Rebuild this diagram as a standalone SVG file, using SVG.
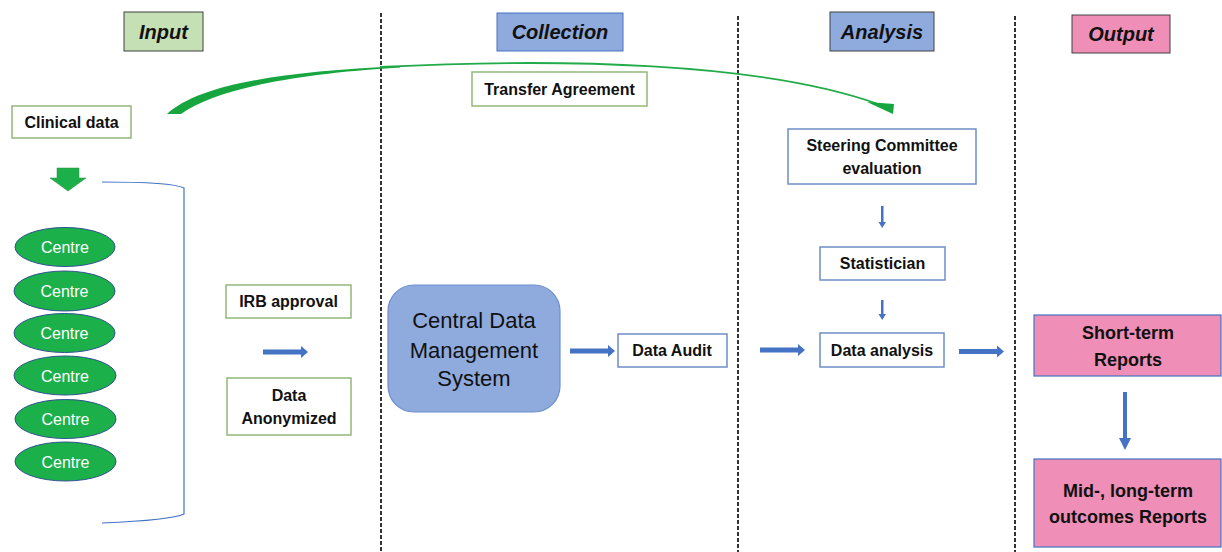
<svg xmlns="http://www.w3.org/2000/svg" width="1222" height="552" viewBox="0 0 1222 552">
<style>
.hdr{font-family:"Liberation Sans",Arial,sans-serif;font-size:20px;font-weight:bold;font-style:italic;fill:#111;text-anchor:middle}
.lbl{font-family:"Liberation Sans",Arial,sans-serif;font-size:16px;font-weight:bold;fill:#111;text-anchor:middle}
.big{font-family:"Liberation Sans",Arial,sans-serif;font-size:18px;font-weight:bold;fill:#111;text-anchor:middle}
.cdm{font-family:"Liberation Sans",Arial,sans-serif;font-size:22px;fill:#111;text-anchor:middle}
.ctr{font-family:"Liberation Sans",Arial,sans-serif;font-size:16px;fill:#fff;text-anchor:middle}
.gbox{fill:#fff;stroke:#93b678;stroke-width:1.5}
.bbox{fill:#fff;stroke:#6f8dc8;stroke-width:1.5}
.ell{fill:#1cb04a;stroke:#2f528f;stroke-width:1}
.dash{stroke:#333;stroke-width:2;stroke-dasharray:4 2}
.blue{fill:#4472c4}
</style>
<defs>
<path id="harr" d="M0,-2.5 L38,-2.5 L38,-6 L45,0 L38,6 L38,2.5 L0,2.5 Z"/>
</defs>
<rect width="1222" height="552" fill="#fff"/>
<g id="lanes">
<line class="dash" x1="381" y1="13" x2="381" y2="552"/>
<line class="dash" x1="738" y1="16" x2="738" y2="552"/>
<line class="dash" x1="1015" y1="16" x2="1015" y2="552"/>
</g>
<g id="hdr-input"><rect x="124" y="12" width="79" height="39" fill="#c5e0b4" stroke="#404040" stroke-width="1"/><text class="hdr" x="163.5" y="39">Input</text></g>
<g id="hdr-collection"><rect x="497" y="13" width="126" height="38" fill="#8faadc" stroke="#4472c4" stroke-width="1"/><text class="hdr" x="560" y="39">Collection</text></g>
<g id="hdr-analysis"><rect x="830" y="12" width="104" height="39" fill="#8faadc" stroke="#404040" stroke-width="1"/><text class="hdr" x="882" y="39">Analysis</text></g>
<g id="hdr-output"><rect x="1072" y="15" width="98" height="38" fill="#ef8fb7" stroke="#404040" stroke-width="1"/><text class="hdr" x="1121" y="41">Output</text></g>

<g id="connectors">
<path d="M167,114 C200,84 280,72 400,66 L400,67.5 C290,74 215,90 181,114 Z" fill="#16a53f"/>
<path d="M380,67 C560,58 760,62 878,104" fill="none" stroke="#22ab4a" stroke-width="1.8"/>
<polygon points="867,102 894,104 893,114" fill="#16a53f"/>
<polygon points="57,168 79,168 79,178 86,178 68,191 50,178 57,178" fill="#1cb04a" stroke="#2e8b3e" stroke-width="0.5"/>
<path d="M102,182 Q172,182 184,188 L184,514 Q172,520 102,523" fill="none" stroke="#4472c4" stroke-width="1.2"/>
<use href="#harr" class="blue" transform="translate(263,352)"/>
<use href="#harr" class="blue" transform="translate(570,351)"/>
<use href="#harr" class="blue" transform="translate(760,350)"/>
<use href="#harr" class="blue" transform="translate(959,351.5)"/>
<path class="blue" d="M881,206 L883.5,206 L883.5,222 L886,222 L882.2,228 L878.5,222 L881,222 Z"/>
<path class="blue" d="M881,300 L883.5,300 L883.5,314 L886,314 L882.2,320 L878.5,314 L881,314 Z"/>
<path class="blue" d="M1123,392 L1127,392 L1127,438 L1131,438 L1125,450 L1119,438 L1123,438 Z"/>
</g>

<g id="clinical"><rect class="gbox" x="12" y="106" width="119" height="32"/><text class="lbl" x="71.5" y="128">Clinical data</text></g>
<g id="transfer"><rect class="gbox" x="472" y="72" width="175" height="34"/><text class="lbl" x="559.5" y="95">Transfer Agreement</text></g>

<g id="centre1"><ellipse class="ell" cx="65" cy="247" rx="50" ry="19.5"/><text class="ctr" x="65" y="253">Centre</text></g>
<g id="centre2"><ellipse class="ell" cx="64.5" cy="291" rx="50.5" ry="20"/><text class="ctr" x="64.5" y="297">Centre</text></g>
<g id="centre3"><ellipse class="ell" cx="64.5" cy="333" rx="50.5" ry="19.5"/><text class="ctr" x="64.5" y="339">Centre</text></g>
<g id="centre4"><ellipse class="ell" cx="65" cy="375.5" rx="51" ry="19.5"/><text class="ctr" x="65" y="381.5">Centre</text></g>
<g id="centre5"><ellipse class="ell" cx="65.5" cy="419" rx="50.5" ry="19.5"/><text class="ctr" x="65.5" y="425">Centre</text></g>
<g id="centre6"><ellipse class="ell" cx="65.5" cy="461.5" rx="50.5" ry="19.5"/><text class="ctr" x="65.5" y="467.5">Centre</text></g>

<g id="irb"><rect class="gbox" x="226" y="285" width="125" height="33"/><text class="lbl" x="288.5" y="307">IRB approval</text></g>
<g id="anon"><rect class="gbox" x="227" y="378" width="124" height="57"/><text class="lbl" x="289" y="401">Data</text><text class="lbl" x="289" y="424">Anonymized</text></g>

<g id="cdms"><rect x="388" y="285" width="172" height="127" rx="26" fill="#8faadc" stroke="#6d8fcf" stroke-width="1.2"/><text class="cdm" x="474" y="328">Central Data</text><text class="cdm" x="474" y="358">Management</text><text class="cdm" x="474" y="386">System</text></g>
<g id="audit"><rect class="bbox" x="618" y="334" width="109" height="33"/><text class="lbl" x="672" y="356">Data Audit</text></g>

<g id="steering"><rect class="bbox" x="788" y="129" width="188" height="55"/><text class="lbl" x="882" y="151">Steering Committee</text><text class="lbl" x="882" y="174">evaluation</text></g>
<g id="statistician"><rect class="bbox" x="820" y="247" width="125" height="33"/><text class="lbl" x="882.5" y="269">Statistician</text></g>
<g id="analysis"><rect class="bbox" x="820" y="333" width="124" height="34"/><text class="lbl" x="882" y="356">Data analysis</text></g>

<g id="short"><rect x="1034" y="315" width="187" height="61" fill="#ef8fb7" stroke="#4472c4" stroke-width="1.2"/><text class="big" x="1128" y="339">Short-term</text><text class="big" x="1128" y="366">Reports</text></g>
<g id="mid"><rect x="1034" y="459" width="187" height="88" fill="#ef8fb7" stroke="#4472c4" stroke-width="1.2"/><text class="big" x="1128" y="497">Mid-, long-term</text><text class="big" x="1128" y="523">outcomes Reports</text></g>
</svg>
